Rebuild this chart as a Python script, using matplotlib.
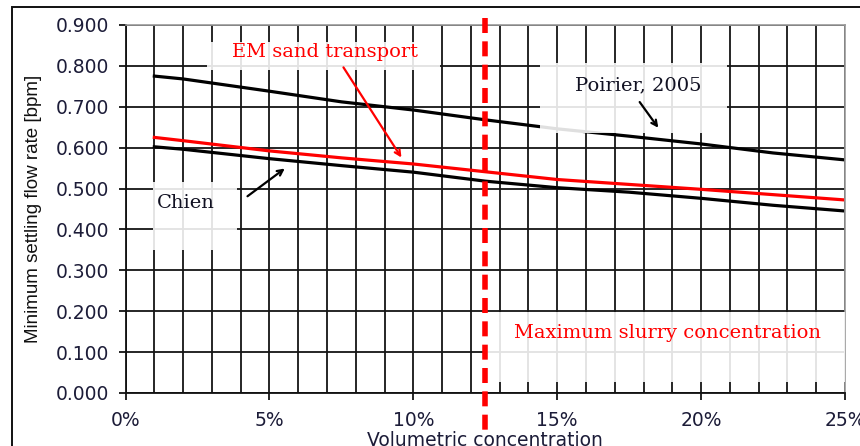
import matplotlib
matplotlib.use("Agg")
import matplotlib.pyplot as plt
from matplotlib.patches import Rectangle
from matplotlib.ticker import MultipleLocator, FuncFormatter
import numpy as np

# volumetric concentration [%] and minimum settling flow rate [bpm]
conc = [1, 2, 5, 7.5, 10, 12.5, 15, 17.5, 20, 22.5, 25]
poirier = [0.775, 0.768, 0.738, 0.712, 0.692, 0.668, 0.646, 0.628, 0.609, 0.587, 0.570]
em_sand = [0.625, 0.617, 0.592, 0.575, 0.560, 0.541, 0.522, 0.510, 0.498, 0.485, 0.472]
chien = [0.602, 0.596, 0.573, 0.556, 0.540, 0.518, 0.502, 0.491, 0.476, 0.459, 0.445]
max_slurry = 12.5

fig = plt.figure(figsize=(8.6, 4.46), dpi=100)
ax = fig.add_axes([0.146, 0.119, 0.8365, 0.825])

# frame around the whole chart
fig.add_artist(Rectangle((0.014, -0.2), 1.2, 1.184, transform=fig.transFigure,
                         fill=False, ec='#111111', lw=1.4))

ax.set_xlim(0, 25)
ax.set_ylim(0, 0.9)
ax.xaxis.set_major_locator(MultipleLocator(5))
ax.xaxis.set_minor_locator(MultipleLocator(1))
ax.yaxis.set_major_locator(MultipleLocator(0.1))
ax.xaxis.set_major_formatter(FuncFormatter(lambda v, p: '%d%%' % round(v)))
ax.yaxis.set_major_formatter(FuncFormatter(lambda v, p: '%.3f' % v))
ax.grid(True, which='both', color='#151515', lw=1.3, zorder=1)
ax.set_axisbelow(True)
ax.tick_params(axis='both', which='major', labelsize=13.5, length=5, width=1.2,
               labelcolor='#1c1c38')
ax.tick_params(axis='x', which='minor', length=0)
ax.tick_params(axis='x', pad=8)
ax.tick_params(axis='y', pad=7)
for s in ['left', 'bottom']:
    ax.spines[s].set_color('#111111')
    ax.spines[s].set_linewidth(1.3)
for s in ['top', 'right']:
    ax.spines[s].set_color('#999999')
    ax.spines[s].set_linewidth(1.2)

ax.plot(conc, poirier, color='black', lw=2.3, zorder=2)
ax.plot(conc, chien, color='black', lw=2.3, zorder=2)
ax.plot(conc, em_sand, color='#ff0000', lw=2.3, zorder=2)

# white label boxes
for (x0, y0, w, h) in [(14.4, 0.636, 6.5, 0.171), (0.95, 0.350, 2.92, 0.166),
                       (2.83, 0.790, 8.1, 0.068), (12.5, 0.027, 12.5, 0.171)]:
    ax.add_patch(Rectangle((x0, y0), w, h, fc='white', ec='none', alpha=0.88, zorder=3))

ax.plot([max_slurry, max_slurry], [0.917, -0.105], color='#ff0000', lw=4,
        dashes=(2.7, 1.5), clip_on=False, zorder=4)

serif = 'DejaVu Serif'
ax.text(6.93, 0.834, 'EM sand transport', color='#ff0000', fontsize=14,
        family=serif, ha='center', va='center', zorder=5)
ax.text(17.81, 0.753, 'Poirier, 2005', color='#111122', fontsize=14,
        family=serif, ha='center', va='center', zorder=5)
ax.text(2.1, 0.465, 'Chien', color='#111122', fontsize=14,
        family=serif, ha='center', va='center', zorder=5)
ax.text(18.85, 0.147, 'Maximum slurry concentration', color='#ff0000', fontsize=14,
        family=serif, ha='center', va='center', zorder=5)

ax.annotate('', xy=(9.64, 0.570), xytext=(7.52, 0.802), zorder=6,
            arrowprops=dict(arrowstyle='->', color='#ff0000', lw=1.6))
ax.annotate('', xy=(18.57, 0.643), xytext=(17.81, 0.717), zorder=6,
            arrowprops=dict(arrowstyle='->', color='black', lw=1.6))
ax.annotate('', xy=(5.61, 0.553), xytext=(4.16, 0.477), zorder=6,
            arrowprops=dict(arrowstyle='->', color='black', lw=1.6))

ax.set_xlabel('Volumetric concentration', fontsize=13.5, color='#1c1c38', labelpad=1)
ax.set_ylabel('Minimum settling flow rate [bpm]', fontsize=13.5,
              family='Liberation Sans', color='#111111', labelpad=10)

fig.savefig('out.png', dpi=100)
